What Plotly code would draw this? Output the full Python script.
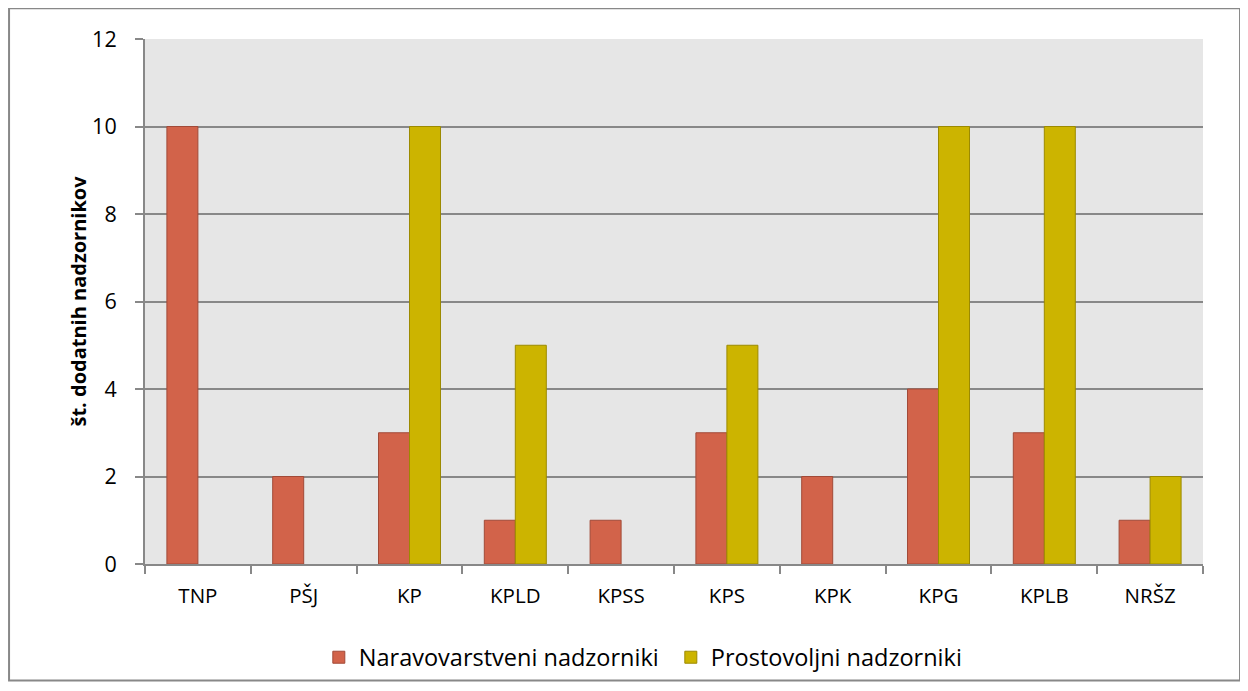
import plotly.graph_objects as go

categories = ["TNP", "PŠJ", "KP", "KPLD", "KPSS", "KPS", "KPK", "KPG", "KPLB", "NRŠZ"]
naravovarstveni = [10, 2, 3, 1, 1, 3, 2, 4, 3, 1]
prostovoljni = [None, None, 10, 5, None, 5, None, 10, 10, 2]

fig = go.Figure()

fig.add_trace(go.Bar(
    x=categories,
    y=naravovarstveni,
    name="Naravovarstveni nadzorniki",
    marker=dict(color="#D2634A", line=dict(color="#A24A38", width=1))
))

fig.add_trace(go.Bar(
    x=categories,
    y=prostovoljni,
    name="Prostovoljni nadzorniki",
    marker=dict(color="#CCB400", line=dict(color="#9C8A00", width=1))
))

# page body adds an 8px margin, so the figure is 8px smaller than the window
fig.update_layout(
    width=1240,
    height=683,
    barmode="group",
    bargap=0.414,
    bargroupgap=0,
    paper_bgcolor="white",
    plot_bgcolor="#E6E6E6",
    font=dict(family="Open Sans, Arial, sans-serif", color="black", size=20),
    margin=dict(l=137, r=45, t=31, b=125),
    xaxis=dict(
        type="category",
        showgrid=False,
        showline=True,
        linecolor="#888888",
        linewidth=2,
        ticks="outside",
        tickson="boundaries",
        ticklen=8,
        tickcolor="#888888",
        tickwidth=2,
        ticklabelstandoff=12,
        tickfont=dict(size=20.5),
    ),
    yaxis=dict(
        title=dict(text="<b>št. dodatnih nadzornikov</b>", font=dict(size=20), standoff=0),
        range=[0, 12],
        dtick=2,
        showgrid=True,
        gridcolor="#888888",
        gridwidth=2,
        zeroline=False,
        showline=True,
        linecolor="#888888",
        linewidth=2,
        ticks="outside",
        ticklen=8,
        tickcolor="#888888",
        tickwidth=2,
        ticklabelstandoff=14,
        tickfont=dict(size=21.5),
    ),
    showlegend=True,
    legend=dict(
        orientation="h",
        x=0.497,
        xanchor="center",
        y=-0.178,
        yanchor="middle",
        font=dict(size=23.5),
        itemwidth=30,
        entrywidth=307,
    ),
    shapes=[dict(
        type="rect",
        xref="paper", yref="paper",
        x0=-0.1285, x1=1.035, y0=-0.222, y1=1.0588,
        line=dict(color="#888888", width=2),
        fillcolor="rgba(0,0,0,0)",
        layer="below",
    )],
)

fig.write_html("out.html")
